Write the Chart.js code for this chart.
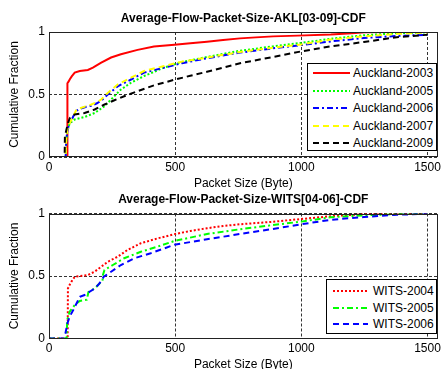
<!DOCTYPE html>
<html>
<head>
<meta charset="utf-8">
<script src="https://cdn.jsdelivr.net/npm/chart.js@4.4.0/dist/chart.umd.min.js"></script>
<style>
  html, body { margin: 0; padding: 0; background: #fff; width: 444px; height: 369px; overflow: hidden; }
  canvas.panel { position: absolute; left: 0; }
  .legend { position: absolute; background: #fff; border: 1px solid #000; box-sizing: border-box;
            font: 12px "Liberation Sans", Arial, Helvetica, sans-serif; color: #000; }
  .legend .row { position: absolute; left: 0; right: 0; height: 16px; }
  .legend .row span { position: absolute; top: 0; line-height: 16px; white-space: nowrap; }
  .legend .row svg { position: absolute; top: 0; }
</style>
</head>
<body>
<canvas id="aklChart" class="panel" width="444" height="200" style="top:0px"></canvas>
<canvas id="witsChart" class="panel" width="444" height="200" style="top:180px"></canvas>
<div id="aklLegend" class="legend" style="left:307px; top:63px; width:130px; height:88px;"></div>
<div id="witsLegend" class="legend" style="left:326px; top:279px; width:111px; height:55px;"></div>
<script>
// ---- axis ticks ----
const xTicks = [0, 500, 1000, 1500];
const yTicks = [0, 0.5, 1];
const yTickLabels = ['0', '0.5', '1'];

// ---- Auckland traces (packet size in bytes, cumulative fraction) ----
const akl2003Size = [0, 72, 73, 78, 82, 90, 102, 122, 154, 174, 207, 246, 285, 351, 416, 497, 560, 626, 690, 757, 820, 888, 986, 1117, 1200, 1250, 1350, 1500];
const akl2003Cdf  = [0, 0, 0.59, 0.605, 0.62, 0.645, 0.675, 0.688, 0.696, 0.715, 0.755, 0.796, 0.822, 0.857, 0.884, 0.898, 0.91, 0.922, 0.936, 0.949, 0.957, 0.965, 0.971, 0.98, 0.99, 0.997, 1.0, 1.0];

const akl2005Size = [0, 66, 68, 72, 82, 102, 141, 181, 220, 246, 285, 325, 377, 456, 527, 626, 757, 888, 1000, 1117, 1248, 1378, 1500];
const akl2005Cdf  = [0, 0, 0.10, 0.20, 0.27, 0.30, 0.32, 0.352, 0.406, 0.46, 0.54, 0.594, 0.648, 0.715, 0.76, 0.80, 0.85, 0.885, 0.913, 0.946, 0.974, 0.99, 0.998];

const akl2006Size = [0, 66, 68, 72, 78, 90, 100, 109, 122, 145, 168, 190, 207, 233, 272, 325, 377, 456, 527, 626, 757, 888, 1000, 1117, 1248, 1378, 1500];
const akl2006Cdf  = [0, 0, 0.12, 0.20, 0.25, 0.30, 0.34, 0.37, 0.385, 0.40, 0.41, 0.43, 0.45, 0.50, 0.565, 0.62, 0.675, 0.715, 0.75, 0.79, 0.835, 0.87, 0.895, 0.925, 0.952, 0.968, 0.978];

const akl2007Size = [0, 66, 68, 72, 76, 96, 109, 122, 145, 168, 190, 207, 233, 272, 325, 377, 456, 527, 626, 757, 888, 1000, 1117, 1248, 1378, 1500];
const akl2007Cdf  = [0, 0, 0.14, 0.21, 0.245, 0.325, 0.38, 0.39, 0.405, 0.42, 0.44, 0.46, 0.513, 0.58, 0.635, 0.688, 0.728, 0.763, 0.795, 0.84, 0.875, 0.90, 0.94, 0.965, 0.985, 0.995];

const akl2009Size = [0, 62, 63, 69, 75, 82, 102, 141, 181, 220, 259, 298, 351, 416, 497, 560, 626, 690, 757, 888, 1000, 1117, 1248, 1378, 1500];
const akl2009Cdf  = [0, 0, 0.164, 0.218, 0.27, 0.31, 0.34, 0.352, 0.38, 0.42, 0.454, 0.486, 0.527, 0.573, 0.618, 0.65, 0.682, 0.715, 0.75, 0.80, 0.845, 0.885, 0.92, 0.958, 0.978];

// ---- WITS traces ----
const wits2004Size = [0, 74, 75, 82, 89, 102, 122, 154, 181, 207, 233, 272, 311, 364, 429, 497, 560, 626, 690, 757, 888, 1000, 1117, 1209, 1260, 1500];
const wits2004Cdf  = [0, 0, 0.40, 0.43, 0.455, 0.494, 0.50, 0.508, 0.535, 0.574, 0.614, 0.654, 0.708, 0.762, 0.80, 0.835, 0.86, 0.882, 0.90, 0.914, 0.934, 0.956, 0.978, 0.99, 0.998, 1.0];

const wits2005Size = [0, 70, 72, 82, 102, 109, 122, 150, 156, 181, 200, 212, 214, 220, 253, 298, 364, 429, 497, 626, 757, 888, 1000, 1117, 1248, 1378, 1500];
const wits2005Cdf  = [0, 0, 0.148, 0.214, 0.268, 0.28, 0.30, 0.31, 0.37, 0.40, 0.44, 0.46, 0.51, 0.548, 0.588, 0.642, 0.694, 0.734, 0.78, 0.836, 0.874, 0.908, 0.935, 0.97, 0.985, 0.995, 1.0];

const wits2006Size = [0, 60, 65, 73, 82, 96, 109, 122, 141, 161, 181, 200, 217, 246, 285, 338, 403, 497, 626, 757, 888, 1000, 1117, 1248, 1378, 1500];
const wits2006Cdf  = [0, 0, 0.04, 0.12, 0.175, 0.228, 0.28, 0.334, 0.348, 0.374, 0.40, 0.44, 0.494, 0.534, 0.588, 0.642, 0.682, 0.75, 0.794, 0.836, 0.876, 0.914, 0.95, 0.972, 0.99, 0.998];

const FONT = '"Liberation Sans", Arial, Helvetica, sans-serif';
const DOTTED = [2, 2];
const DASHED = [6, 4];
const DASHDOT = [6, 3, 2, 3];

function points(xs, ys) { return xs.map((x, i) => ({ x: x, y: ys[i] })); }

function series(label, xs, ys, color, dash, width) {
  return { label, data: points(xs, ys), borderColor: color, backgroundColor: color,
           borderDash: dash, borderWidth: width, pointRadius: 0, fill: false, tension: 0 };
}

// later series are painted on top of earlier ones
function stackOrder(list) { list.forEach((d, i) => { d.order = list.length - 1 - i; }); return list; }

// closed box round the plotting area
const axesBox = {
  id: 'axesBox',
  afterDatasetsDraw(chart) {
    const a = chart.chartArea, ctx = chart.ctx;
    ctx.save();
    ctx.strokeStyle = '#222';
    ctx.lineWidth = 1;
    ctx.setLineDash([]);
    const l = Math.round(a.left) + 0.5, t = Math.round(a.top) + 0.5;
    const r = Math.round(a.right) - 0.5, b = Math.round(a.bottom) - 0.5;
    ctx.strokeRect(l, t, r - l, b - t);
    ctx.restore();
  }
};

function panelOptions(titleText, L) {
  return {
    responsive: false,
    animation: false,
    devicePixelRatio: 1,
    layout: { padding: { left: 0, right: 3, top: 0, bottom: 0 } },
    plugins: {
      legend: { display: false },
      tooltip: { enabled: false },
      title: {
        display: true, text: titleText, fullSize: false, color: '#000',
        font: { family: FONT, size: 12, weight: 'bold' },
        padding: { top: L.titleTop, bottom: L.titleBottom }
      }
    },
    scales: {
      x: {
        type: 'linear', min: 0, max: 1540,
        afterBuildTicks: s => { s.ticks = xTicks.map(v => ({ value: v })); },
        afterFit: s => { s.height = L.xHeight; },
        ticks: { color: '#000', font: { family: FONT, size: 12 }, padding: 3, maxRotation: 0,
                 callback: (v, i) => String(xTicks[i]) },
        grid: { color: '#333', lineWidth: 1, drawTicks: false },
        border: { display: false, dash: [3, 2] },
        title: { display: true, text: 'Packet Size (Byte)', color: '#000',
                 font: { family: FONT, size: 12 }, padding: { top: 0, bottom: L.xTitleBottom } }
      },
      y: {
        type: 'linear', min: 0, max: 1,
        afterBuildTicks: s => { s.ticks = yTicks.map(v => ({ value: v })); },
        afterFit: s => { s.width = 49; },
        ticks: { color: '#000', font: { family: FONT, size: 12 }, padding: 4,
                 callback: (v, i) => yTickLabels[i] },
        grid: { color: '#333', lineWidth: 1, drawTicks: false },
        border: { display: false, dash: [3, 2] },
        title: { display: true, text: 'Cumulative Fraction', color: '#000',
                 font: { family: FONT, size: 12 }, padding: { top: 7, bottom: 0 } }
      }
    }
  };
}

const aklChart = new Chart(document.getElementById('aklChart'), {
  type: 'line',
  data: {
    datasets: stackOrder([
      series('Auckland-2003', akl2003Size, akl2003Cdf, '#ff0000', [], 2),
      series('Auckland-2005', akl2005Size, akl2005Cdf, '#00ff00', DOTTED, 2),
      series('Auckland-2006', akl2006Size, akl2006Cdf, '#0000ff', DASHDOT, 2),
      series('Auckland-2007', akl2007Size, akl2007Cdf, '#ffff00', DASHED, 2),
      series('Auckland-2009', akl2009Size, akl2009Cdf, '#000000', DASHED, 2)
    ])
  },
  options: panelOptions('Average-Flow-Packet-Size-AKL[03-09]-CDF',
    { titleTop: 11, titleBottom: 6.6, xHeight: 43, xTitleBottom: 9 }),
  plugins: [axesBox]
});

const witsChart = new Chart(document.getElementById('witsChart'), {
  type: 'line',
  data: {
    datasets: stackOrder([
      series('WITS-2004', wits2004Size, wits2004Cdf, '#ff0000', DOTTED, 2),
      series('WITS-2005', wits2005Size, wits2005Cdf, '#00ff00', DASHDOT, 2),
      series('WITS-2006', wits2006Size, wits2006Cdf, '#0000ff', DASHED, 2)
    ])
  },
  options: panelOptions('Average-Flow-Packet-Size-WITS[04-06]-CDF',
    { titleTop: 12.8, titleBottom: 6.3, xHeight: 41.5, xTitleBottom: 8 }),
  plugins: [axesBox]
});

// legend boxes drawn inside each plot, built from the chart's own datasets
function buildLegend(el, chart, cfg) {
  const svgNS = 'http://www.w3.org/2000/svg';
  chart.data.datasets.forEach((ds, i) => {
    const row = document.createElement('div');
    row.className = 'row';
    row.style.top = (cfg.first + i * cfg.step - 8) + 'px';
    const svg = document.createElementNS(svgNS, 'svg');
    svg.setAttribute('width', cfg.sampleW);
    svg.setAttribute('height', 16);
    svg.style.left = cfg.sampleX + 'px';
    const ln = document.createElementNS(svgNS, 'line');
    ln.setAttribute('x1', 0); ln.setAttribute('x2', cfg.sampleW);
    ln.setAttribute('y1', 8); ln.setAttribute('y2', 8);
    ln.setAttribute('stroke', ds.borderColor);
    ln.setAttribute('stroke-width', ds.borderWidth);
    if (ds.borderDash && ds.borderDash.length) ln.setAttribute('stroke-dasharray', ds.borderDash.join(' '));
    svg.appendChild(ln);
    row.appendChild(svg);
    const t = document.createElement('span');
    t.textContent = ds.label;
    t.style.left = cfg.textX + 'px';
    row.appendChild(t);
    el.appendChild(row);
  });
}

buildLegend(document.getElementById('aklLegend'), aklChart,
  { first: 9.3, step: 17.4, sampleX: 5, sampleW: 37, textX: 45 });
buildLegend(document.getElementById('witsLegend'), witsChart,
  { first: 11, step: 16.67, sampleX: 6, sampleW: 35, textX: 46 });
</script>
</body>
</html>
